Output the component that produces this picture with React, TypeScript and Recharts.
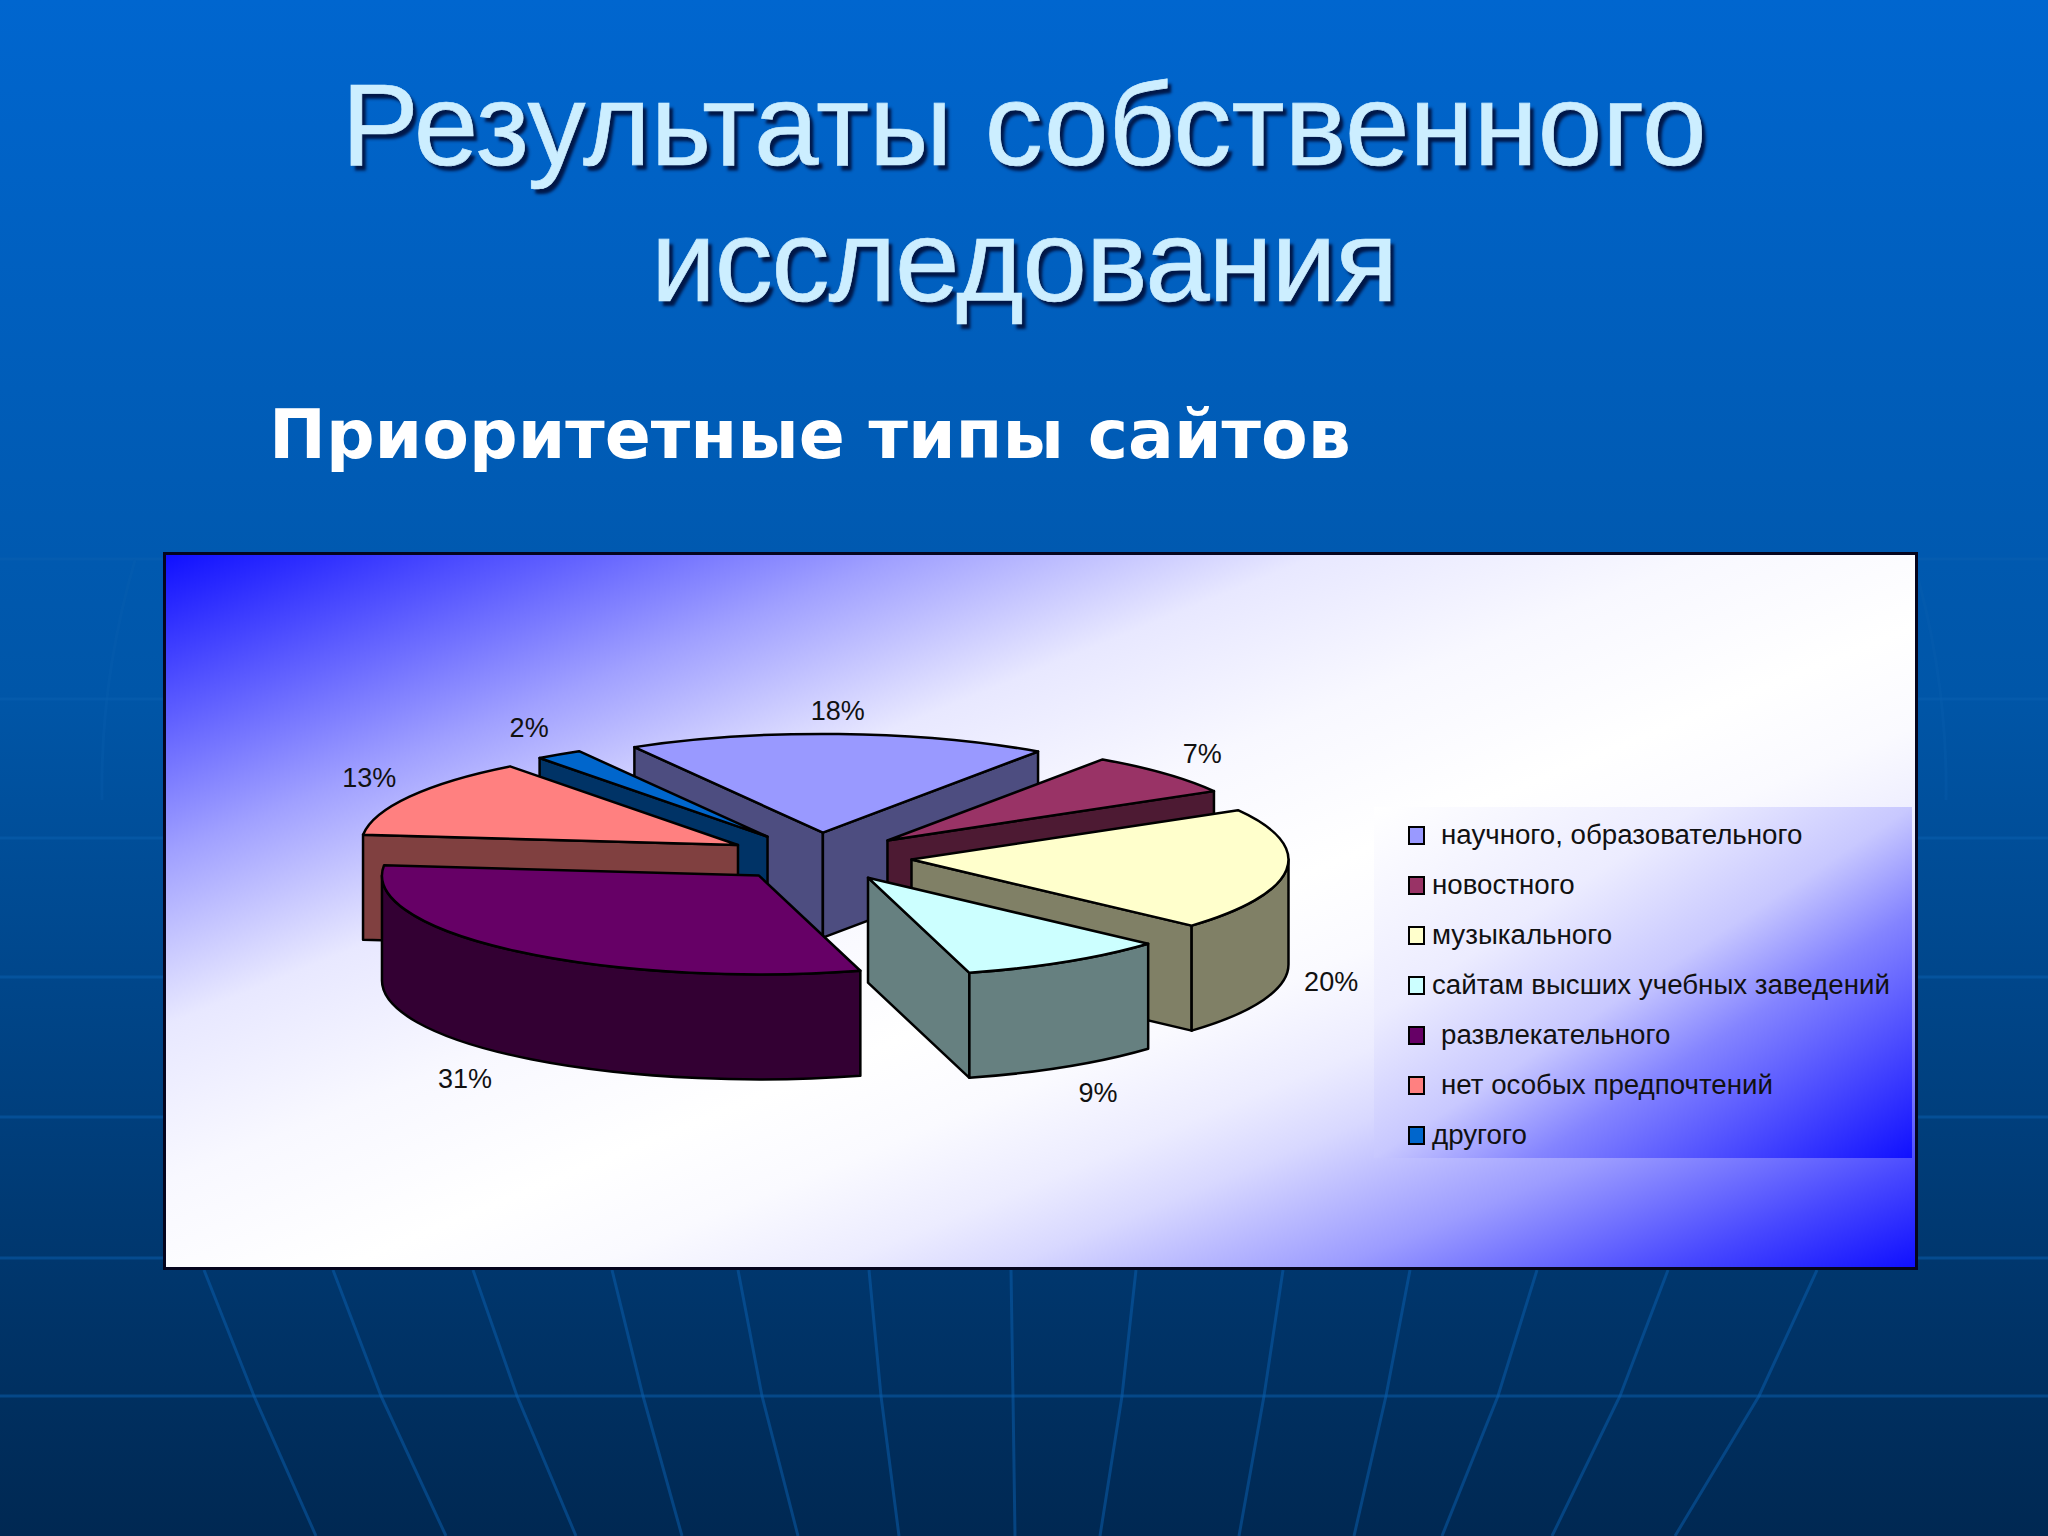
import React from "react";
import { Legend, Pie, PieChart } from "recharts";

const categories = [
  "научного, образовательного",
  "новостного",
  "музыкального",
  "сайтам высших учебных заведений",
  "развлекательного",
  "нет особых предпочтений",
  "другого",
];
const shares = [18, 7, 20, 9, 31, 13, 2];
const topColors = ["#9999ff", "#993366", "#ffffcc", "#ccffff", "#660066", "#ff8080", "#0066cc"];
const wallColors = ["#4d4d80", "#4d1a33", "#808066", "#668080", "#330033", "#804040", "#003366"];
// slices are painted back to front, the way the 3D pie overlaps
const paintOrder = [0, 1, 6, 5, 2, 4, 3];
const indentedLegend = ["научного, образовательного", "развлекательного", "нет особых предпочтений"];
// small hand corrections for the percent labels, same order as categories
const labelNudgeX = [-3, -1, -7, 4, -17, 5, -1];
const labelNudgeY = [7, 1, 4, 1, 0, -4, -2];

const data = categories.map((name, i) => ({ name, value: shares[i], fill: topColors[i] }));

const SQUASH = 0.262;
const DEPTH = 105;
const EXPLODE = 93;
const rad = (d: number) => (d * Math.PI) / 180;

function Wedge(props: any) {
  const { cx, cy, outerRadius: r, startAngle, endAngle, name } = props;
  const idx = categories.indexOf(name);
  const a = 90 - startAngle; // clockwise from 12 o'clock
  const b = 90 - endAngle;
  const mid = (a + b) / 2;
  const ox = cx + EXPLODE * Math.sin(rad(mid));
  const oy = cy - EXPLODE * SQUASH * Math.cos(rad(mid));
  const px = (t: number) => ox + r * Math.sin(rad(t));
  const py = (t: number) => oy - r * SQUASH * Math.cos(rad(t));
  const ry = r * SQUASH;
  const line = { stroke: "#000", strokeWidth: 2.5, strokeLinejoin: "round" as const };

  const face = (t: number) =>
    `M${ox},${oy} L${px(t)},${py(t)} L${px(t)},${py(t) + DEPTH} L${ox},${oy + DEPTH} Z`;

  // only the front of the rim can be seen
  const ra = Math.max(a, 90);
  const rb = Math.min(b, 270);
  const rim =
    rb > ra
      ? `M${px(ra)},${py(ra)} A${r},${ry} 0 0 1 ${px(rb)},${py(rb)} ` +
        `L${px(rb)},${py(rb) + DEPTH} A${r},${ry} 0 0 0 ${px(ra)},${py(ra) + DEPTH} Z`
      : null;

  const large = b - a > 180 ? 1 : 0;
  return (
    <g>
      {Math.sin(rad(a)) < 0 && <path d={face(a)} fill={wallColors[idx]} {...line} />}
      {Math.sin(rad(b)) > 0 && <path d={face(b)} fill={wallColors[idx]} {...line} />}
      {rim && <path d={rim} fill={wallColors[idx]} {...line} />}
      <path
        d={`M${ox},${oy} L${px(a)},${py(a)} A${r},${ry} 0 ${large} 1 ${px(b)},${py(b)} Z`}
        fill={topColors[idx]}
        {...line}
      />
    </g>
  );
}

function renderLabel(props: any) {
  const { cx, cy, midAngle, percent, name } = props;
  const idx = categories.indexOf(name);
  const t = 90 - midAngle;
  const c = Math.cos(rad(t));
  const x = cx + 522 * Math.sin(rad(t)) + labelNudgeX[idx];
  const y = cy - 153 * c + (c < 0 ? DEPTH : 0) + labelNudgeY[idx];
  return (
    <text x={x} y={y} textAnchor="middle" dominantBaseline="central" fontSize={27} fill="#111" fontFamily="Liberation Sans">
      {`${Math.round(percent * 100)}%`}
    </text>
  );
}

function LegendBox({ payload }: any) {
  const names = categories.filter((c) => (payload || []).some((p: any) => p.value === c));
  return (
    <div
      style={{
        width: 538,
        height: 351,
        position: "relative",
        background:
          "linear-gradient(to bottom right, #ffffff 0%, #ececff 30%, #c8c8ff 50%, #8484ff 65%, #1010ff 100%)",
      }}
    >
      {names.map((name, i) => (
        <div
          key={name}
          style={{
            position: "absolute",
            left: 34,
            top: 14 + i * 50,
            height: 28,
            display: "flex",
            alignItems: "center",
            fontFamily: "Liberation Sans",
            fontSize: 27.7,
            color: "#111",
            whiteSpace: "nowrap",
          }}
        >
          <span
            style={{
              width: 13,
              height: 15,
              background: topColors[categories.indexOf(name)],
              border: "2px solid #000",
              marginRight: indentedLegend.includes(name) ? 16 : 7,
              flex: "none",
            }}
          />
          {name}
        </div>
      ))}
    </div>
  );
}

const hLines = [559, 699, 838, 977, 1117, 1258, 1396];
const fanTop = [204, 333, 473, 612, 738, 869, 1011, 1136, 1283, 1410, 1537, 1668, 1817];
const fanMid = [254, 381, 517, 643, 762, 881, 1013, 1122, 1264, 1386, 1498, 1620, 1759];
const fanBottom = [316, 446, 576, 682, 798, 899, 1015, 1100, 1239, 1354, 1442, 1552, 1675];

function Backdrop() {
  const stroke = { stroke: "#0a5fb0", strokeWidth: 3, fill: "none", opacity: 0.5 };
  return (
    <svg width={2048} height={1536} style={{ position: "absolute", left: 0, top: 0 }}>
      <defs>
        <linearGradient id="slide" x1="0" y1="0" x2="0" y2="1">
          <stop offset="0%" stopColor="#0066cf" />
          <stop offset="45%" stopColor="#0056a8" />
          <stop offset="100%" stopColor="#002852" />
        </linearGradient>
      </defs>
      <rect width={2048} height={1536} fill="url(#slide)" />
      {hLines.map((y) => (
        <line key={y} x1={0} x2={2048} y1={y} y2={y} {...stroke} />
      ))}
      {fanTop.map((x, i) => (
        <path key={x} d={`M${x},1270 L${fanMid[i]},1396 L${fanBottom[i]},1536`} {...stroke} />
      ))}
      <path d="M135,560 Q100,680 102,800" {...stroke} opacity={0.3} />
      <path d="M1913,560 Q1948,680 1946,800" {...stroke} opacity={0.3} />
    </svg>
  );
}

const titleStyle: React.CSSProperties = {
  position: "absolute",
  left: 0,
  width: 2048,
  textAlign: "center",
  fontFamily: "Liberation Sans",
  fontSize: 116,
  lineHeight: "140px",
  color: "#cceeff",
  WebkitTextStroke: "0.7px #cceeff",
  textShadow: "4px 5px 3px rgba(0,10,50,0.85)",
  whiteSpace: "nowrap",
};

export default function App() {
  return (
    <div style={{ position: "absolute", left: 0, top: 0, width: 2048, height: 1536, overflow: "hidden" }}>
      <Backdrop />
      <div style={{ ...titleStyle, top: 55 }}>Результаты собственного</div>
      <div style={{ ...titleStyle, top: 191, letterSpacing: -1.1 }}>исследования</div>
      <div
        style={{
          position: "absolute",
          left: 269,
          top: 395,
          fontFamily: "DejaVu Sans",
          fontWeight: 700,
          fontSize: 68,
          lineHeight: "80px",
          color: "#fff",
          whiteSpace: "nowrap",
        }}
      >
        Приоритетные типы сайтов
      </div>
      <div
        style={{
          position: "absolute",
          left: 163,
          top: 552,
          width: 1755,
          height: 718,
          boxSizing: "border-box",
          border: "3px solid #05051e",
          background:
            "linear-gradient(to bottom right, #1010ff 0%, #a0a0ff 21%, #e8e8ff 33%, #f8f8ff 44%, #ffffff 55%, #fafaff 62%, #ececff 69%, #d8d8ff 74%, #9c9cff 83.4%, #4848ff 93%, #1010ff 100%)",
        }}
      />
      <div style={{ position: "absolute", left: 164, top: 553 }}>
        <PieChart width={1753} height={716} margin={{ top: 0, right: 0, bottom: 0, left: 0 }}>
          {paintOrder.map((sliceIdx, n) => (
            <Pie
              key={sliceIdx}
              data={data}
              dataKey="value"
              nameKey="name"
              cx={655}
              cy={304}
              outerRadius={377}
              startAngle={120}
              endAngle={-240}
              paddingAngle={0}
              isAnimationActive={false}
              label={n === paintOrder.length - 1 ? renderLabel : false}
              labelLine={false}
              shape={(p: any) => (p.name === categories[sliceIdx] ? <Wedge {...p} /> : <g />)}
            />
          ))}
          <Legend
            layout="vertical"
            content={<LegendBox />}
            wrapperStyle={{ left: 1210, top: 254, width: 538, height: 351 }}
          />
        </PieChart>
      </div>
    </div>
  );
}
